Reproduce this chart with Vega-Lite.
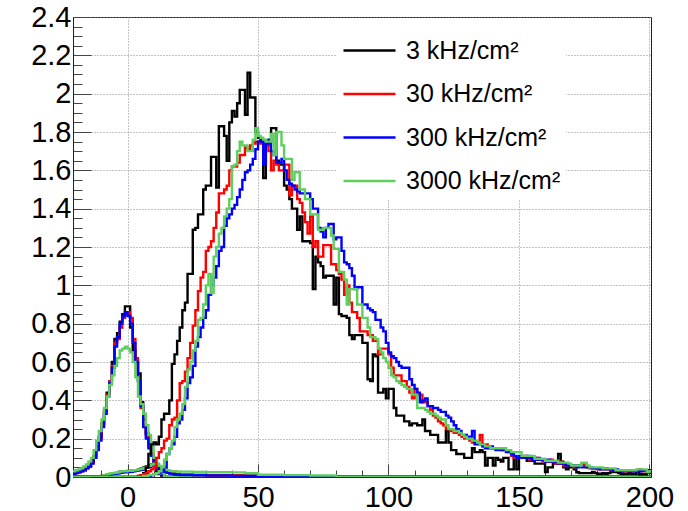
{
"$schema": "https://vega.github.io/schema/vega-lite/v6.json",
"width": 578, "height": 460,
"autosize": "none",
"padding": {"left": 73, "top": 17, "right": 37, "bottom": 34},
"background": "white",
"config": {"view": {"stroke": "#222", "strokeWidth": 1}, "font": "Liberation Sans"},
"datasets": {
"peak": [
{"x":-21,"k":0.02,"r":0.015,"b":0.015,"g":0.03},
{"x":-20,"k":0.025,"r":0.02,"b":0.02,"g":0.035},
{"x":-19,"k":0.03,"r":0.025,"b":0.025,"g":0.04},
{"x":-18,"k":0.035,"r":0.03,"b":0.03,"g":0.045},
{"x":-17,"k":0.04,"r":0.035,"b":0.035,"g":0.055},
{"x":-16,"k":0.05,"r":0.045,"b":0.045,"g":0.065},
{"x":-15,"k":0.06,"r":0.055,"b":0.055,"g":0.08},
{"x":-14,"k":0.08,"r":0.075,"b":0.07,"g":0.1},
{"x":-13,"k":0.11,"r":0.1,"b":0.1,"g":0.14},
{"x":-12,"k":0.16,"r":0.15,"b":0.14,"g":0.19},
{"x":-11,"k":0.21,"r":0.2,"b":0.19,"g":0.24},
{"x":-10,"k":0.28,"r":0.27,"b":0.26,"g":0.3},
{"x":-9,"k":0.35,"r":0.34,"b":0.33,"g":0.36},
{"x":-8,"k":0.44,"r":0.43,"b":0.42,"g":0.42},
{"x":-7,"k":0.5,"r":0.5,"b":0.49,"g":0.48},
{"x":-6,"k":0.6,"r":0.58,"b":0.57,"g":0.53},
{"x":-5,"k":0.72,"r":0.7,"b":0.68,"g":0.58},
{"x":-4,"k":0.75,"r":0.72,"b":0.73,"g":0.62},
{"x":-3,"k":0.81,"r":0.78,"b":0.8,"g":0.66},
{"x":-2,"k":0.85,"r":0.83,"b":0.84,"g":0.67},
{"x":-1,"k":0.89,"r":0.85,"b":0.86,"g":0.68},
{"x":0,"k":0.89,"r":0.86,"b":0.84,"g":0.67},
{"x":1,"k":0.78,"r":0.83,"b":0.8,"g":0.65},
{"x":2,"k":0.66,"r":0.72,"b":0.7,"g":0.6},
{"x":3,"k":0.6,"r":0.62,"b":0.6,"g":0.52},
{"x":4,"k":0.54,"r":0.5,"b":0.5,"g":0.42},
{"x":5,"k":0.39,"r":0.36,"b":0.37,"g":0.38},
{"x":6,"k":0.3,"r":0.27,"b":0.26,"g":0.33},
{"x":7,"k":0.23,"r":0.22,"b":0.2,"g":0.27},
{"x":8,"k":0.17,"r":0.16,"b":0.15,"g":0.22},
{"x":9,"k":0.12,"r":0.12,"b":0.11,"g":0.16},
{"x":10,"k":0.07,"r":0.08,"b":0.07,"g":0.1},
{"x":11,"k":0.03,"r":0.04,"b":0.04,"g":0.07},
{"x":12,"k":0.015,"r":0.02,"b":0.02,"g":0.05},
{"x":13,"k":0.005,"r":0.01,"b":0.01,"g":0.02},
{"x":14,"k":0,"r":0,"b":0,"g":0},
{"x":201,"k":0,"r":0,"b":0,"g":0}
],
"low": [
{"x":-21,"k":0,"r":0,"b":0,"g":0},
{"x":-11,"k":0.003,"r":0.003,"b":0.002,"g":0.004},
{"x":-10,"k":0.005,"r":0.005,"b":0.004,"g":0.006},
{"x":-9,"k":0.01,"r":0.008,"b":0.008,"g":0.01},
{"x":-8,"k":0.012,"r":0.012,"b":0.01,"g":0.014},
{"x":-7,"k":0.015,"r":0.015,"b":0.012,"g":0.018},
{"x":-6,"k":0.018,"r":0.017,"b":0.015,"g":0.02},
{"x":-5,"k":0.02,"r":0.02,"b":0.017,"g":0.022},
{"x":-4,"k":0.022,"r":0.021,"b":0.019,"g":0.025},
{"x":-3,"k":0.028,"r":0.024,"b":0.022,"g":0.028},
{"x":-2,"k":0.03,"r":0.026,"b":0.024,"g":0.03},
{"x":-1,"k":0.03,"r":0.028,"b":0.025,"g":0.03},
{"x":0,"k":0.032,"r":0.028,"b":0.026,"g":0.032},
{"x":1,"k":0.03,"r":0.03,"b":0.027,"g":0.033},
{"x":2,"k":0.035,"r":0.032,"b":0.03,"g":0.035},
{"x":3,"k":0.035,"r":0.034,"b":0.032,"g":0.036},
{"x":4,"k":0.04,"r":0.037,"b":0.035,"g":0.04},
{"x":5,"k":0.045,"r":0.04,"b":0.038,"g":0.043},
{"x":6,"k":0.05,"r":0.045,"b":0.042,"g":0.047},
{"x":7,"k":0.055,"r":0.05,"b":0.048,"g":0.052},
{"x":8,"k":0.06,"r":0.055,"b":0.053,"g":0.058},
{"x":9,"k":0.065,"r":0.062,"b":0.06,"g":0.065},
{"x":10,"k":0.07,"r":0.068,"b":0.066,"g":0.07},
{"x":11,"k":0.065,"r":0.065,"b":0.065,"g":0.068},
{"x":12,"k":0.05,"r":0.052,"b":0.05,"g":0.058},
{"x":13,"k":0.04,"r":0.042,"b":0.04,"g":0.05},
{"x":14,"k":0.03,"r":0.032,"b":0.03,"g":0.042},
{"x":15,"k":0.025,"r":0.025,"b":0.022,"g":0.036},
{"x":16,"k":0.02,"r":0.02,"b":0.018,"g":0.032},
{"x":17,"k":0.018,"r":0.017,"b":0.015,"g":0.03},
{"x":18,"k":0.016,"r":0.015,"b":0.013,"g":0.03},
{"x":19,"k":0.015,"r":0.014,"b":0.012,"g":0.028},
{"x":20,"k":0.012,"r":0.012,"b":0.01,"g":0.028},
{"x":25,"k":0.011,"r":0.01,"b":0.009,"g":0.026},
{"x":30,"k":0.01,"r":0.009,"b":0.008,"g":0.025},
{"x":40,"k":0.008,"r":0.008,"b":0.006,"g":0.024},
{"x":45,"k":0.007,"r":0.006,"b":0.005,"g":0.02},
{"x":50,"k":0.005,"r":0.005,"b":0.004,"g":0.012},
{"x":60,"k":0.004,"r":0.004,"b":0.003,"g":0.01},
{"x":70,"k":0.003,"r":0.003,"b":0.003,"g":0.008},
{"x":80,"k":0,"r":0,"b":0,"g":0},
{"x":201,"k":0,"r":0,"b":0,"g":0}
],
"broad": [
{"x":-21,"k":0,"r":0,"b":0,"g":0},
{"x":4,"k":0.005,"r":0.005,"b":0,"g":0},
{"x":5,"k":0.01,"r":0.01,"b":0,"g":0},
{"x":6,"k":0.02,"r":0.015,"b":0,"g":0.005},
{"x":7,"k":0.05,"r":0.02,"b":0,"g":0.005},
{"x":8,"k":0.12,"r":0.03,"b":0.005,"g":0.01},
{"x":9,"k":0.17,"r":0.04,"b":0.01,"g":0.01},
{"x":10,"k":0.18,"r":0.05,"b":0.015,"g":0.015},
{"x":11,"k":0.17,"r":0.1,"b":0.02,"g":0.02},
{"x":12,"k":0.21,"r":0.13,"b":0.025,"g":0.03},
{"x":13,"k":0.3,"r":0.15,"b":0.03,"g":0.05},
{"x":14,"k":0.33,"r":0.19,"b":0.05,"g":0.09},
{"x":15,"k":0.33,"r":0.2,"b":0.12,"g":0.12},
{"x":16,"k":0.4,"r":0.27,"b":0.15,"g":0.15},
{"x":17,"k":0.59,"r":0.3,"b":0.17,"g":0.19},
{"x":18,"k":0.64,"r":0.31,"b":0.21,"g":0.26},
{"x":19,"k":0.71,"r":0.4,"b":0.28,"g":0.3},
{"x":20,"k":0.78,"r":0.49,"b":0.3,"g":0.33},
{"x":21,"k":0.87,"r":0.5,"b":0.35,"g":0.38},
{"x":22,"k":0.91,"r":0.55,"b":0.41,"g":0.47},
{"x":23,"k":1.06,"r":0.62,"b":0.49,"g":0.56},
{"x":24,"k":1.06,"r":0.7,"b":0.52,"g":0.6},
{"x":25,"k":1.29,"r":0.79,"b":0.58,"g":0.66},
{"x":26,"k":1.3,"r":0.87,"b":0.68,"g":0.71},
{"x":27,"k":1.37,"r":0.97,"b":0.73,"g":0.82},
{"x":28,"k":1.37,"r":1.04,"b":0.78,"g":0.83},
{"x":29,"k":1.5,"r":1.07,"b":0.83,"g":0.9},
{"x":30,"k":1.52,"r":1.18,"b":0.87,"g":1.0},
{"x":31,"k":1.52,"r":1.2,"b":0.95,"g":1.06},
{"x":32,"k":1.67,"r":1.23,"b":1.0,"g":0.96},
{"x":33,"k":1.67,"r":1.3,"b":1.04,"g":1.15},
{"x":34,"k":1.51,"r":1.38,"b":1.1,"g":1.2},
{"x":35,"k":1.83,"r":1.48,"b":1.18,"g":1.27},
{"x":36,"k":1.83,"r":1.48,"b":1.2,"g":1.3},
{"x":37,"k":1.78,"r":1.5,"b":1.31,"g":1.36},
{"x":38,"k":1.65,"r":1.52,"b":1.35,"g":1.4},
{"x":39,"k":1.85,"r":1.6,"b":1.37,"g":1.45},
{"x":40,"k":1.91,"r":1.62,"b":1.4,"g":1.62},
{"x":41,"k":1.88,"r":1.62,"b":1.42,"g":1.63},
{"x":42,"k":1.95,"r":1.64,"b":1.46,"g":1.7},
{"x":43,"k":2.02,"r":1.68,"b":1.5,"g":1.75},
{"x":44,"k":2.02,"r":1.68,"b":1.55,"g":1.73},
{"x":45,"k":1.89,"r":1.72,"b":1.59,"g":1.73},
{"x":46,"k":2.11,"r":1.71,"b":1.6,"g":1.7},
{"x":47,"k":1.98,"r":1.73,"b":1.63,"g":1.7},
{"x":48,"k":1.98,"r":1.74,"b":1.66,"g":1.76},
{"x":49,"k":1.8,"r":1.75,"b":1.71,"g":1.82},
{"x":50,"k":1.77,"r":1.74,"b":1.75,"g":1.78},
{"x":51,"k":1.75,"r":1.74,"b":1.76,"g":1.77},
{"x":52,"k":1.56,"r":1.73,"b":1.63,"g":1.76},
{"x":53,"k":1.73,"r":1.73,"b":1.74,"g":1.75},
{"x":54,"k":1.75,"r":1.7,"b":1.76,"g":1.75},
{"x":55,"k":1.82,"r":1.6,"b":1.7,"g":1.79},
{"x":56,"k":1.82,"r":1.65,"b":1.68,"g":1.68},
{"x":57,"k":1.65,"r":1.63,"b":1.64,"g":1.8},
{"x":58,"k":1.63,"r":1.6,"b":1.64,"g":1.8},
{"x":59,"k":1.63,"r":1.6,"b":1.66,"g":1.73},
{"x":60,"k":1.52,"r":1.63,"b":1.6,"g":1.66},
{"x":61,"k":1.5,"r":1.63,"b":1.55,"g":1.66},
{"x":62,"k":1.45,"r":1.47,"b":1.53,"g":1.66},
{"x":63,"k":1.4,"r":1.52,"b":1.52,"g":1.55},
{"x":64,"k":1.4,"r":1.52,"b":1.5,"g":1.59},
{"x":65,"k":1.29,"r":1.45,"b":1.49,"g":1.59},
{"x":66,"k":1.36,"r":1.43,"b":1.48,"g":1.5},
{"x":67,"k":1.23,"r":1.38,"b":1.48,"g":1.5},
{"x":68,"k":1.23,"r":1.33,"b":1.48,"g":1.45},
{"x":69,"k":1.23,"r":1.27,"b":1.48,"g":1.45},
{"x":70,"k":1.22,"r":1.36,"b":1.45,"g":1.37},
{"x":71,"k":0.98,"r":1.2,"b":1.4,"g":1.37},
{"x":72,"k":1.15,"r":1.23,"b":1.4,"g":1.37},
{"x":73,"k":1.12,"r":1.15,"b":1.3,"g":1.29},
{"x":74,"k":1.1,"r":1.15,"b":1.28,"g":1.29},
{"x":75,"k":1.04,"r":1.21,"b":1.25,"g":1.3},
{"x":76,"k":1.05,"r":1.21,"b":1.3,"g":1.3},
{"x":77,"k":1.05,"r":1.21,"b":1.32,"g":1.3},
{"x":78,"k":1.05,"r":1.11,"b":1.32,"g":1.26},
{"x":79,"k":0.9,"r":1.11,"b":1.24,"g":1.19},
{"x":80,"k":1.04,"r":1.08,"b":1.25,"g":1.19},
{"x":81,"k":0.85,"r":1.06,"b":1.25,"g":1.07},
{"x":82,"k":0.84,"r":1.03,"b":1.18,"g":1.07},
{"x":83,"k":0.84,"r":0.95,"b":1.12,"g":1.03},
{"x":84,"k":0.83,"r":1.0,"b":1.11,"g":0.9},
{"x":85,"k":0.74,"r":0.91,"b":1.09,"g":0.98},
{"x":86,"k":0.72,"r":0.86,"b":1.05,"g":0.98},
{"x":87,"k":0.74,"r":0.86,"b":0.98,"g":0.98},
{"x":88,"k":0.74,"r":0.83,"b":0.99,"g":0.9},
{"x":89,"k":0.74,"r":0.76,"b":0.99,"g":0.9},
{"x":90,"k":0.7,"r":0.76,"b":0.9,"g":0.83},
{"x":91,"k":0.7,"r":0.76,"b":0.9,"g":0.83},
{"x":92,"k":0.51,"r":0.74,"b":0.88,"g":0.78},
{"x":93,"k":0.5,"r":0.74,"b":0.87,"g":0.73},
{"x":94,"k":0.64,"r":0.71,"b":0.86,"g":0.73},
{"x":95,"k":0.63,"r":0.71,"b":0.82,"g":0.72},
{"x":96,"k":0.44,"r":0.64,"b":0.82,"g":0.67},
{"x":97,"k":0.44,"r":0.67,"b":0.78,"g":0.65},
{"x":98,"k":0.46,"r":0.67,"b":0.76,"g":0.62},
{"x":99,"k":0.41,"r":0.67,"b":0.7,"g":0.6},
{"x":100,"k":0.46,"r":0.64,"b":0.65,"g":0.57},
{"x":101,"k":0.46,"r":0.57,"b":0.63,"g":0.53},
{"x":102,"k":0.36,"r":0.53,"b":0.62,"g":0.52},
{"x":103,"k":0.32,"r":0.53,"b":0.6,"g":0.5},
{"x":104,"k":0.32,"r":0.53,"b":0.58,"g":0.49},
{"x":105,"k":0.32,"r":0.5,"b":0.57,"g":0.48},
{"x":106,"k":0.29,"r":0.5,"b":0.57,"g":0.47},
{"x":107,"k":0.29,"r":0.47,"b":0.57,"g":0.46},
{"x":108,"k":0.27,"r":0.44,"b":0.51,"g":0.46},
{"x":109,"k":0.28,"r":0.41,"b":0.48,"g":0.43},
{"x":110,"k":0.28,"r":0.46,"b":0.46,"g":0.43},
{"x":111,"k":0.27,"r":0.43,"b":0.44,"g":0.36},
{"x":112,"k":0.27,"r":0.43,"b":0.39,"g":0.36},
{"x":113,"k":0.3,"r":0.39,"b":0.4,"g":0.36},
{"x":114,"k":0.24,"r":0.39,"b":0.41,"g":0.35},
{"x":115,"k":0.24,"r":0.37,"b":0.37,"g":0.34},
{"x":116,"k":0.22,"r":0.35,"b":0.37,"g":0.33},
{"x":117,"k":0.22,"r":0.32,"b":0.36,"g":0.33},
{"x":118,"k":0.22,"r":0.31,"b":0.36,"g":0.32},
{"x":119,"k":0.18,"r":0.29,"b":0.35,"g":0.31},
{"x":120,"k":0.18,"r":0.28,"b":0.34,"g":0.3},
{"x":121,"k":0.18,"r":0.27,"b":0.34,"g":0.3},
{"x":122,"k":0.24,"r":0.25,"b":0.32,"g":0.27},
{"x":123,"k":0.18,"r":0.25,"b":0.31,"g":0.25},
{"x":124,"k":0.14,"r":0.24,"b":0.29,"g":0.25},
{"x":125,"k":0.14,"r":0.23,"b":0.27,"g":0.24},
{"x":126,"k":0.12,"r":0.23,"b":0.25,"g":0.24},
{"x":127,"k":0.12,"r":0.22,"b":0.24,"g":0.23},
{"x":128,"k":0.12,"r":0.21,"b":0.22,"g":0.22},
{"x":129,"k":0.1,"r":0.2,"b":0.22,"g":0.21},
{"x":130,"k":0.1,"r":0.2,"b":0.21,"g":0.2},
{"x":131,"k":0.1,"r":0.19,"b":0.21,"g":0.2},
{"x":132,"k":0.15,"r":0.18,"b":0.24,"g":0.19},
{"x":133,"k":0.13,"r":0.18,"b":0.17,"g":0.19},
{"x":134,"k":0.13,"r":0.18,"b":0.17,"g":0.18},
{"x":135,"k":0.14,"r":0.22,"b":0.17,"g":0.17},
{"x":136,"k":0.13,"r":0.16,"b":0.16,"g":0.17},
{"x":137,"k":0.06,"r":0.17,"b":0.15,"g":0.16},
{"x":138,"k":0.1,"r":0.16,"b":0.15,"g":0.16},
{"x":139,"k":0.1,"r":0.15,"b":0.16,"g":0.15},
{"x":140,"k":0.06,"r":0.15,"b":0.15,"g":0.15},
{"x":141,"k":0.1,"r":0.15,"b":0.14,"g":0.15},
{"x":142,"k":0.09,"r":0.15,"b":0.15,"g":0.15},
{"x":143,"k":0.08,"r":0.14,"b":0.14,"g":0.15},
{"x":144,"k":0.1,"r":0.14,"b":0.15,"g":0.15},
{"x":145,"k":0.1,"r":0.14,"b":0.13,"g":0.14},
{"x":146,"k":0.04,"r":0.13,"b":0.13,"g":0.14},
{"x":147,"k":0.04,"r":0.11,"b":0.12,"g":0.13},
{"x":148,"k":0.1,"r":0.1,"b":0.11,"g":0.13},
{"x":149,"k":0.04,"r":0.1,"b":0.1,"g":0.13},
{"x":150,"k":0.1,"r":0.1,"b":0.11,"g":0.13},
{"x":151,"k":0.1,"r":0.1,"b":0.1,"g":0.11},
{"x":152,"k":0.1,"r":0.11,"b":0.1,"g":0.11},
{"x":153,"k":0.085,"r":0.1,"b":0.11,"g":0.11},
{"x":154,"k":0.085,"r":0.09,"b":0.1,"g":0.11},
{"x":155,"k":0.085,"r":0.09,"b":0.09,"g":0.11},
{"x":156,"k":0.07,"r":0.1,"b":0.09,"g":0.095},
{"x":157,"k":0.07,"r":0.09,"b":0.1,"g":0.095},
{"x":158,"k":0.07,"r":0.09,"b":0.09,"g":0.095},
{"x":159,"k":0.07,"r":0.08,"b":0.09,"g":0.095},
{"x":160,"k":0.026,"r":0.08,"b":0.08,"g":0.085},
{"x":161,"k":0.05,"r":0.08,"b":0.09,"g":0.085},
{"x":162,"k":0.05,"r":0.09,"b":0.08,"g":0.085},
{"x":163,"k":0.07,"r":0.08,"b":0.08,"g":0.085},
{"x":164,"k":0.07,"r":0.07,"b":0.08,"g":0.085},
{"x":165,"k":0.12,"r":0.08,"b":0.07,"g":0.075},
{"x":166,"k":0.08,"r":0.07,"b":0.07,"g":0.075},
{"x":167,"k":0.05,"r":0.06,"b":0.07,"g":0.075},
{"x":168,"k":0.04,"r":0.06,"b":0.06,"g":0.075},
{"x":169,"k":0.05,"r":0.06,"b":0.06,"g":0.07},
{"x":170,"k":0.06,"r":0.06,"b":0.06,"g":0.06},
{"x":171,"k":0.04,"r":0.05,"b":0.06,"g":0.06},
{"x":172,"k":0.025,"r":0.06,"b":0.05,"g":0.06},
{"x":173,"k":0.02,"r":0.06,"b":0.06,"g":0.06},
{"x":174,"k":0.02,"r":0.07,"b":0.05,"g":0.075},
{"x":175,"k":0.02,"r":0.06,"b":0.05,"g":0.075},
{"x":176,"k":0.02,"r":0.05,"b":0.05,"g":0.06},
{"x":177,"k":0.02,"r":0.045,"b":0.05,"g":0.05},
{"x":178,"k":0.026,"r":0.045,"b":0.045,"g":0.05},
{"x":179,"k":0.02,"r":0.045,"b":0.045,"g":0.05},
{"x":180,"k":0.017,"r":0.04,"b":0.045,"g":0.05},
{"x":181,"k":0.017,"r":0.04,"b":0.04,"g":0.05},
{"x":182,"k":0.02,"r":0.045,"b":0.04,"g":0.045},
{"x":183,"k":0.017,"r":0.04,"b":0.045,"g":0.045},
{"x":184,"k":0.02,"r":0.04,"b":0.04,"g":0.045},
{"x":185,"k":0.026,"r":0.035,"b":0.04,"g":0.045},
{"x":186,"k":0.026,"r":0.04,"b":0.035,"g":0.045},
{"x":187,"k":0.026,"r":0.035,"b":0.04,"g":0.035},
{"x":188,"k":0.02,"r":0.035,"b":0.035,"g":0.035},
{"x":189,"k":0.017,"r":0.035,"b":0.03,"g":0.035},
{"x":190,"k":0.017,"r":0.03,"b":0.035,"g":0.035},
{"x":191,"k":0.017,"r":0.035,"b":0.035,"g":0.035},
{"x":192,"k":0.02,"r":0.035,"b":0.03,"g":0.035},
{"x":193,"k":0.017,"r":0.03,"b":0.035,"g":0.035},
{"x":194,"k":0.017,"r":0.035,"b":0.03,"g":0.035},
{"x":195,"k":0.035,"r":0.035,"b":0.035,"g":0.04},
{"x":196,"k":0.014,"r":0.04,"b":0.03,"g":0.04},
{"x":197,"k":0.014,"r":0.03,"b":0.035,"g":0.04},
{"x":198,"k":0.014,"r":0.035,"b":0.035,"g":0.04},
{"x":199,"k":0.035,"r":0.03,"b":0.03,"g":0.026},
{"x":200,"k":0.02,"r":0.03,"b":0.035,"g":0.03},
{"x":201,"k":0.02,"r":0.03,"b":0.035,"g":0.03}
]
},
"encoding": {
"x": {"field": "x", "type": "quantitative",
  "scale": {"domain": [-20.9, 200.6], "nice": false, "zero": false},
  "axis": {"title": null, "values": [-20,-10,0,10,20,30,40,50,60,70,80,90,100,110,120,130,140,150,160,170,180,190,200],
    "grid": true, "gridDash": [1,2], "gridColor": "#888",
    "gridOpacity": {"condition": {"test": "datum.value % 50 === 0", "value": 1}, "value": 0},
    "tickSize": {"condition": {"test": "datum.value % 50 === 0", "value": -13}, "value": -7},
    "tickColor": "#444", "tickWidth": 1, "domainColor": "#222",
    "labelExpr": "datum.value % 50 === 0 ? datum.label : ''",
    "labelFont": "Liberation Sans", "labelFontSize": 29, "labelColor": "#000", "labelPadding": 19,
    "labelFlush": false, "labelOverlap": false}},
"y": {"field": "y", "type": "quantitative",
  "scale": {"domain": [0, 2.4], "nice": false},
  "axis": {"title": null, "format": "~g",
    "values": [0,0.05,0.1,0.15,0.2,0.25,0.3,0.35,0.4,0.45,0.5,0.55,0.6,0.65,0.7,0.75,0.8,0.85,0.9,0.95,1,1.05,1.1,1.15,1.2,1.25,1.3,1.35,1.4,1.45,1.5,1.55,1.6,1.65,1.7,1.75,1.8,1.85,1.9,1.95,2,2.05,2.1,2.15,2.2,2.25,2.3,2.35,2.4],
    "grid": true, "gridDash": [1,2], "gridColor": "#888",
    "gridOpacity": {"condition": {"test": "round(datum.value*100) % 20 === 0", "value": 1}, "value": 0},
    "tickSize": {"condition": {"test": "round(datum.value*100) % 20 === 0", "value": -18}, "value": -9},
    "tickColor": "#444", "tickWidth": 1, "domainColor": "#222",
    "labelExpr": "round(datum.value*100) % 20 === 0 ? datum.label : ''",
    "labelFont": "Liberation Sans", "labelFontSize": 29, "labelColor": "#000", "labelPadding": 20,
    "labelFlush": false, "labelOverlap": false}},
"color": {"field": "rate", "type": "nominal",
  "scale": {"domain": ["k","r","b","g"], "range": ["#000000","#ff0000","#0000ff","#5cd05c"]},
  "legend": {"orient": "none", "legendX": 264, "legendY": 1, "title": null,
    "fillColor": "white", "padding": 5, "symbolType": "stroke", "symbolSize": 2704, "symbolStrokeWidth": 2.4,
    "labelFont": "Liberation Sans", "labelFontSize": 25, "labelColor": "#000", "labelLimit": 400,
    "rowPadding": 2.5, "labelOffset": 9,
    "labelExpr": "datum.value === 'k' ? '3 kHz/cm²' : datum.value === 'r' ? '30 kHz/cm²' : datum.value === 'b' ? '300 kHz/cm²' : '3000 kHz/cm²\u00a0\u00a0\u00a0\u00a0\u00a0\u00a0\u00a0\u00a0'"}}
},
"layer": [
{"data": {"name": "peak"}, "transform": [{"fold": ["k","r","b","g"], "as": ["rate","y"]}], "mark": {"type": "line", "interpolate": "step-after", "strokeWidth": 2.4, "clip": true}},
{"data": {"name": "low"}, "transform": [{"fold": ["k","r","b","g"], "as": ["rate","y"]}], "mark": {"type": "line", "interpolate": "step-after", "strokeWidth": 2.4, "clip": true}},
{"data": {"name": "broad"}, "transform": [{"fold": ["k","r","b","g"], "as": ["rate","y"]}], "mark": {"type": "line", "interpolate": "step-after", "strokeWidth": 2.4, "clip": true}}
]
}
